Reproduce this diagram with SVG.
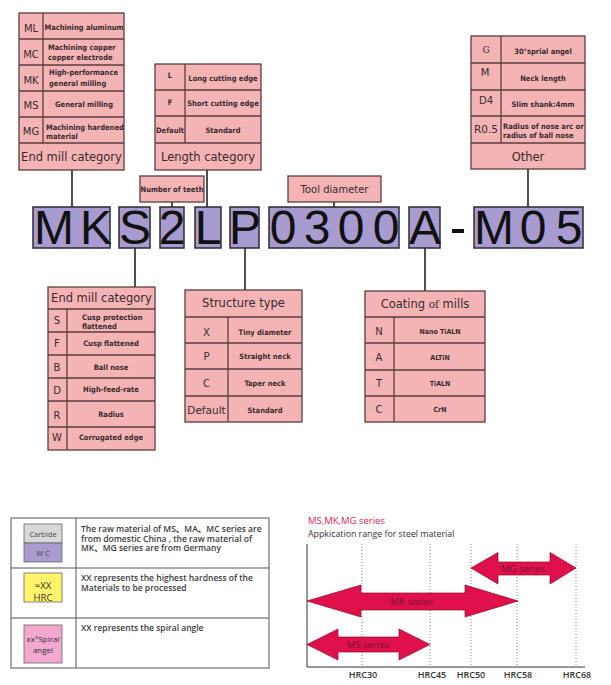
<svg xmlns="http://www.w3.org/2000/svg" width="611" height="685" viewBox="0 0 611 685">
<style>
.tb{fill:#f4b4b6;stroke:#5c3c3e;stroke-width:1.3}
.ln{stroke:#5c3c3e;stroke-width:1.3;fill:none}
.ab{font-family:"DejaVu Sans",sans-serif;font-size:10px;fill:#3a2a2b;text-anchor:middle}
.sm{font-family:"DejaVu Sans Condensed","DejaVu Sans",sans-serif;font-stretch:condensed;font-weight:bold;font-size:7.5px;fill:#3a2a2b;text-anchor:middle}
.sl{text-anchor:start}
.ti{font-family:"DejaVu Sans",sans-serif;font-size:11.5px;fill:#3a2a2b;text-anchor:middle}
.cb{fill:#a89bcf;stroke:#2e2a33;stroke-width:1.5}
.ct{font-family:"Liberation Sans",Arial,sans-serif;font-size:48px;fill:#111;text-anchor:middle}
.conn{stroke:#222;stroke-width:1.6}
.lg{font-family:"Open Sans","Noto Sans CJK SC",sans-serif;font-size:8.5px;font-weight:600;fill:#3a3a3a}
.lb{font-family:"Open Sans",sans-serif;fill:#333;text-anchor:middle}
.dot{stroke:#888;stroke-width:1;stroke-dasharray:1 2}
.arr{fill:#e0104c;stroke:#8a0a2a;stroke-width:0.7}
.at{font-family:"Open Sans",sans-serif;font-size:9.5px;fill:#7a1030;text-anchor:middle}
.hr{font-family:"Open Sans",sans-serif;font-size:9px;font-weight:600;fill:#333;text-anchor:middle}
</style>

<g id="connectors">
<line class="conn" x1="72" y1="170" x2="72" y2="207"/>
<line class="conn" x1="172" y1="202" x2="172" y2="207"/>
<line class="conn" x1="207" y1="170" x2="207" y2="207"/>
<line class="conn" x1="334" y1="202" x2="334" y2="207"/>
<line class="conn" x1="528" y1="169" x2="528" y2="207"/>
<line class="conn" x1="135" y1="248" x2="135" y2="287"/>
<line class="conn" x1="245" y1="248" x2="245" y2="290"/>
<line class="conn" x1="425" y1="248" x2="425" y2="291"/>
</g>

<g id="end-mill-category-top">
<rect class="tb" x="19" y="13" width="105" height="157"/>
<path class="ln" d="M19 39H124M19 65H124M19 91H124M19 117H124M19 143H124M43 13V143"/>
<text class="ab" x="31" y="32">ML</text>
<text class="ab" x="31" y="57.5">MC</text>
<text class="ab" x="31" y="83.5">MK</text>
<text class="ab" x="31" y="108.5">MS</text>
<text class="ab" x="31" y="134.5">MG</text>
<text class="sm" x="84" y="29.8">Machining aluminum</text>
<text class="sm sl" x="48" y="49.7">Machining copper</text>
<text class="sm sl" x="48" y="59.7">copper electrode</text>
<text class="sm sl" x="49" y="74.7">High-performance</text>
<text class="sm sl" x="49" y="85.7">general milling</text>
<text class="sm" x="84" y="106.7">General milling</text>
<text class="sm sl" x="46" y="129.7">Machining hardened</text>
<text class="sm sl" x="46" y="138.5">material</text>
<text class="ti" x="71.5" y="160.5">End mill category</text>
</g>

<g id="length-category">
<rect class="tb" x="155" y="64" width="106" height="106"/>
<path class="ln" d="M155 90H261M155 116H261M155 143H261M185 64V143"/>
<text class="sm" x="170" y="77.5">L</text>
<text class="sm" x="170" y="104.5">F</text>
<text class="sm" x="170" y="132.7">Default</text>
<text class="sm" x="223" y="80.5">Long cutting edge</text>
<text class="sm" x="223" y="105.5">Short cutting edge</text>
<text class="sm" x="223" y="132.7">Standard</text>
<text class="ti" x="208" y="161">Length category</text>
</g>

<g id="other">
<rect class="tb" x="471" y="36" width="114" height="133"/>
<path class="ln" d="M471 63H585M471 90H585M471 116H585M471 143H585M501 36V143"/>
<text class="ab" x="486" y="53" style="font-family:'DejaVu Serif',serif;font-size:9px">G</text>
<text class="ab" x="485" y="75.5">M</text>
<text class="ab" x="486" y="103.7">D4</text>
<text class="ab" x="486" y="133" style="font-size:10.5px">R0.5</text>
<text class="sm" x="543" y="53.5">30°sprial angel</text>
<text class="sm" x="543" y="80.5">Neck length</text>
<text class="sm" x="543" y="106.5">Slim shank:4mm</text>
<text class="sm sl" x="503" y="128.5">Radius of nose arc or</text>
<text class="sm sl" x="503" y="137.5">radius of ball nose</text>
<text class="ti" x="528" y="161">Other</text>
</g>

<g id="number-of-teeth">
<rect class="tb" x="140" y="176" width="64" height="26"/>
<text class="sm" x="172" y="191.7">Number of teeth</text>
</g>

<g id="tool-diameter">
<rect class="tb" x="288" y="176" width="93" height="26"/>
<text class="ti" x="334.5" y="193" style="font-size:10px">Tool diameter</text>
</g>

<g id="code">
<rect class="cb" x="33" y="207" width="77" height="41"/>
<rect class="cb" x="119" y="207" width="31" height="41"/>
<rect class="cb" x="160" y="207" width="24" height="41"/>
<rect class="cb" x="195" y="207" width="26" height="41"/>
<rect class="cb" x="230" y="207" width="29" height="41"/>
<rect class="cb" x="269" y="207" width="130" height="41"/>
<rect class="cb" x="409" y="207" width="31" height="41"/>
<rect class="cb" x="474" y="207" width="109" height="41"/>
<text class="ct" x="54" y="244">M</text>
<text class="ct" x="96" y="244">K</text>
<text class="ct" x="135" y="244">S</text>
<text class="ct" x="172" y="244">2</text>
<text class="ct" x="208" y="244">L</text>
<text class="ct" x="245" y="244">P</text>
<text class="ct" x="283" y="244">0</text>
<text class="ct" x="317" y="244">3</text>
<text class="ct" x="351" y="244">0</text>
<text class="ct" x="386" y="244">0</text>
<text class="ct" x="425" y="244">A</text>
<rect x="452" y="229" width="12" height="4" fill="#111"/>
<text class="ct" x="494" y="244">M</text>
<text class="ct" x="533" y="244">0</text>
<text class="ct" x="569" y="244">5</text>
</g>

<g id="end-mill-category-bottom">
<rect class="tb" x="48" y="287" width="107" height="163"/>
<path class="ln" d="M48 309H155M48 332H155M48 355H155M48 378H155M48 401H155M48 427H155M67 309V450"/>
<text class="ti" x="101.5" y="302">End mill category</text>
<text class="ab" x="57" y="323.5">S</text>
<text class="ab" x="57" y="346.5">F</text>
<text class="ab" x="57" y="370.5">B</text>
<text class="ab" x="57" y="393.5">D</text>
<text class="ab" x="57" y="418.5">R</text>
<text class="ab" x="57" y="440.5">W</text>
<text class="sm sl" x="82" y="319.5">Cusp protection</text>
<text class="sm sl" x="82" y="328.5">flattened</text>
<text class="sm" x="111" y="346">Cusp flattened</text>
<text class="sm" x="111" y="370">Ball nose</text>
<text class="sm" x="111" y="392">High-feed-rate</text>
<text class="sm" x="111" y="417">Radius</text>
<text class="sm" x="111" y="440">Corrugated edge</text>
</g>

<g id="structure-type">
<rect class="tb" x="185" y="290" width="117" height="132"/>
<path class="ln" d="M185 317H302M185 343H302M185 369H302M185 396H302M228 317V422"/>
<text class="ti" x="243.5" y="307">Structure type</text>
<text class="ab" x="206.5" y="335.5">X</text>
<text class="ab" x="206.5" y="359.5">P</text>
<text class="ab" x="206.5" y="386.5">C</text>
<text class="ab" x="206.5" y="413.5" style="font-size:10.5px">Default</text>
<text class="sm" x="265" y="334.5">Tiny diameter</text>
<text class="sm" x="265" y="358.5">Straight neck</text>
<text class="sm" x="265" y="385.5">Taper neck</text>
<text class="sm" x="265" y="412.5">Standard</text>
</g>

<g id="coating">
<rect class="tb" x="365" y="291" width="120" height="131"/>
<path class="ln" d="M365 317H485M365 343H485M365 370H485M365 396H485M394 317V422"/>
<text class="ti" x="425" y="308">Coating <tspan style="font-family:'DejaVu Serif',serif;font-size:10.5px">of</tspan> mills</text>
<text class="ab" x="379" y="334.5">N</text>
<text class="ab" x="379" y="360.5">A</text>
<text class="ab" x="379" y="386.5">T</text>
<text class="ab" x="379" y="412.5">C</text>
<text class="sm" x="440" y="333.5" style="font-size:7px">Nano TiALN</text>
<text class="sm" x="440" y="359.5" style="font-size:7px">ALTiN</text>
<text class="sm" x="440" y="385.5" style="font-size:7px">TiALN</text>
<text class="sm" x="440" y="411.5" style="font-size:7px">CrN</text>
</g>

<g id="legend">
<rect x="11" y="518" width="258" height="150" fill="#fff" stroke="#555" stroke-width="1"/>
<path d="M11 568H269M11 618H269M76 518V668" stroke="#555" stroke-width="1" fill="none"/>
<rect x="24" y="524" width="38" height="19" fill="#d8d8d8" stroke="#666" stroke-width="0.8"/>
<rect x="24" y="543" width="38" height="19" fill="#a99ad0" stroke="#666" stroke-width="0.8"/>
<text class="lb" x="43" y="537" style="font-size:7.5px;fill:#444">Carbide</text>
<text class="lb" x="43" y="556" style="font-size:7.5px;fill:#444">W C</text>
<rect x="24" y="573" width="38" height="29" fill="#fff36b" stroke="#666" stroke-width="0.8"/>
<text class="lb" x="43" y="589" style="font-size:9.5px">≈XX</text>
<text class="lb" x="43" y="601" style="font-size:9.5px">HRC</text>
<rect x="24" y="625" width="38" height="38" fill="#f2a8cf" stroke="#666" stroke-width="0.8"/>
<text class="lb" x="43" y="642" style="font-size:8px">xx°Spiral</text>
<text class="lb" x="43" y="653" style="font-size:8px">angel</text>
<text class="lg" x="81" y="532">The raw material of MS、MA、MC series are</text>
<text class="lg" x="81" y="541.5">from domestic China , the raw material of</text>
<text class="lg" x="81" y="551">MK、MG series are from Germany</text>
<text class="lg" x="81" y="581">XX represents the highest hardness of the</text>
<text class="lg" x="81" y="591">Materials to be processed</text>
<text class="lg" x="81" y="631">XX represents the spiral angle</text>
</g>

<g id="chart">
<text x="308" y="524" style="font-family:'Open Sans',sans-serif;font-size:9.5px;fill:#e0245e">MS,MK,MG series</text>
<text x="308" y="537" style="font-family:'Open Sans',sans-serif;font-size:8.8px;fill:#333">Appkication range for steel material</text>
<path class="dot" d="M362 544V667M430 544V667M471 544V667M517 544V667M576 544V667"/>
<path d="M307 544V667H585" stroke="#333" stroke-width="1" fill="none"/>
<polygon class="arr" points="471,568 498,552.5 498,562 550,562 550,552.5 576,568 550,584 550,575 498,575 498,584"/>
<text class="at" x="523" y="571.5">MG series</text>
<polygon class="arr" points="307,601 361,585 361,593 465,593 465,585 518,601 465,617 465,610 361,610 361,617"/>
<text class="at" x="412" y="605">MK series</text>
<polygon class="arr" points="307,644.5 338,629 338,637 399,637 399,629 430,644.5 399,660 399,652 338,652 338,660"/>
<text class="at" x="368" y="648">MS series</text>
<text class="hr" x="363" y="678">HRC30</text>
<text class="hr" x="432" y="678">HRC45</text>
<text class="hr" x="471" y="678">HRC50</text>
<text class="hr" x="518" y="678">HRC58</text>
<text class="hr" x="577" y="678">HRC68</text>
</g>
</svg>
